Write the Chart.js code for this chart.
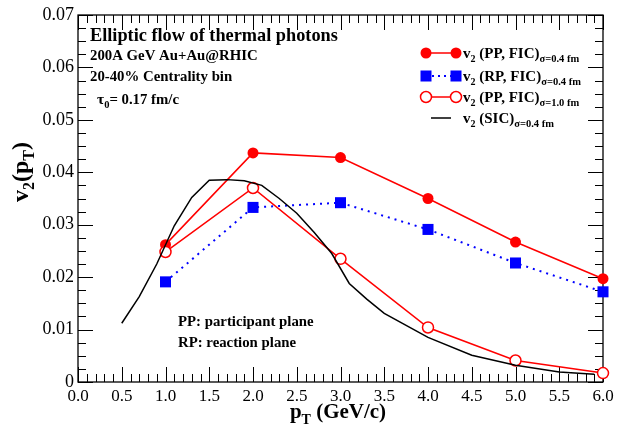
<!DOCTYPE html>
<html>
<head>
<meta charset="utf-8">
<script src="https://cdn.jsdelivr.net/npm/chart.js@4"></script>
<style>
  html, body { margin: 0; padding: 0; background: #fff; }
  #wrap { width: 626px; height: 430px; position: relative; }
</style>
</head>
<body>
<div id="wrap"><canvas id="canvas1"></canvas></div>
<script>
/* v2 of thermal photons vs pT */
const ptBins = [1, 2, 3, 4, 5, 6]
const v2PPnarrow = [0.0262, 0.0437, 0.0428, 0.0350, 0.0267, 0.0197]
const v2RPnarrow = [0.0191, 0.0333, 0.0342, 0.0291, 0.0227, 0.0172]
const v2PPwide = [0.0248, 0.0370, 0.0235, 0.0104, 0.0041, 0.0017]

const sicPt = [0.5, 0.7, 0.9, 1.1, 1.3, 1.5, 1.7, 1.9, 2.1, 2.3, 2.5, 2.7, 2.9, 3.1, 3.3, 3.5, 4.0, 4.5, 5.0, 5.5, 5.9]
const v2SIC = [0.0112, 0.0163, 0.0225, 0.0298, 0.0352, 0.0385, 0.0386, 0.0384, 0.0375, 0.0350, 0.0322, 0.0285, 0.0245, 0.0188, 0.0158, 0.0131, 0.0085, 0.0051, 0.0032, 0.0019, 0.0015]

const xTicks = [0, 0.5, 1, 1.5, 2, 2.5, 3, 3.5, 4, 4.5, 5, 5.5, 6]
const yTicks = [0, 0.01, 0.02, 0.03, 0.04, 0.05, 0.06, 0.07]

const SERIF = '"Liberation Serif", "DejaVu Serif", serif'

function pts(xs, ys) {
    return xs.map((x, i) => ({ x: x, y: ys[i] }))
}

// text with sub/superscript pieces: [text, size, dy]
function richText(ctx, parts, x, y) {
    let cx = x
    parts.forEach(p => {
        ctx.font = 'bold ' + p[1] + 'px ' + SERIF
        ctx.fillText(p[0], cx, y + (p[2] || 0))
        cx += ctx.measureText(p[0]).width
    })
    return cx
}

function richWidth(ctx, parts) {
    let w = 0
    parts.forEach(p => { ctx.font = 'bold ' + p[1] + 'px ' + SERIF; w += ctx.measureText(p[0]).width })
    return w
}

function marker(ctx, style, x, y) {
    ctx.save()
    ctx.lineWidth = 1.5
    if (style === 'filled') {
        ctx.fillStyle = '#ff0000'
        ctx.beginPath(); ctx.arc(x, y, 5.5, 0, Math.PI * 2); ctx.fill()
    } else if (style === 'open') {
        ctx.fillStyle = '#fff'; ctx.strokeStyle = '#ff0000'
        ctx.beginPath(); ctx.arc(x, y, 5.5, 0, Math.PI * 2); ctx.fill(); ctx.stroke()
    } else {
        ctx.fillStyle = '#0000ff'
        ctx.fillRect(x - 5.5, y - 5.5, 11, 11)
    }
    ctx.restore()
}

// frame, inward ticks, axis titles, notes and legend
const decor = {
    id: 'decor',
    beforeDatasetsDraw(chart) {
        const ctx = chart.ctx
        const a = chart.chartArea
        const xs = chart.scales.x, ys = chart.scales.y
        ctx.save()
        ctx.strokeStyle = '#000'
        ctx.lineWidth = 1.3
        ctx.strokeRect(a.left, a.top, a.right - a.left, a.bottom - a.top)
        ctx.lineWidth = 1
        ctx.beginPath()
        for (let i = 0; i <= 60; i++) {
            const v = i / 10
            const px = Math.round(xs.getPixelForValue(v)) + 0.5
            const len = (i % 5 === 0) ? 15 : 8
            ctx.moveTo(px, a.bottom); ctx.lineTo(px, a.bottom - len)
            ctx.moveTo(px, a.top); ctx.lineTo(px, a.top + len)
        }
        for (let i = 0; i <= 28; i++) {
            const v = i * 0.0025
            const py = Math.round(ys.getPixelForValue(v)) + 0.5
            const len = (i % 4 === 0) ? 15 : 8
            ctx.moveTo(a.left, py); ctx.lineTo(a.left + len, py)
            ctx.moveTo(a.right, py); ctx.lineTo(a.right - len, py)
        }
        ctx.stroke()

        ctx.fillStyle = '#000'
        ctx.textBaseline = 'alphabetic'
        ctx.textAlign = 'left'

        // x title
        const xParts = [['p', 21, 0], ['T', 14, 6], [' (GeV/c)', 21, 0]]
        richText(ctx, xParts, 338 - richWidth(ctx, xParts) / 2, 418)

        // y title
        ctx.save()
        ctx.translate(28, 172)
        ctx.rotate(-Math.PI / 2)
        const yParts = [['v', 24, 0], ['2', 16, 6], ['(p', 24, 0], ['T', 16, 6], [')', 24, 0]]
        richText(ctx, yParts, -richWidth(ctx, yParts) / 2, 0)
        ctx.restore()

        // notes
        ctx.font = 'bold 18.3px ' + SERIF
        ctx.fillText('Elliptic flow of thermal photons', 90, 41)
        ctx.font = 'bold 14.8px ' + SERIF
        ctx.fillText('200A GeV Au+Au@RHIC', 90, 60)
        ctx.fillText('20-40% Centrality bin', 90, 81)
        richText(ctx, [['\u03c4', 15.5, 0], ['0', 10.5, 4], ['= 0.17 fm/c', 14.8, 0]], 97, 104)
        ctx.font = 'bold 14.8px ' + SERIF
        ctx.fillText('PP: participant plane', 178, 326)
        ctx.fillText('RP: reaction plane', 178, 347)

        // legend
        const rows = [
            { style: 'filled', color: '#ff0000', dash: [], label: '(PP, FIC)', sub: '\u03c3=0.4 fm' },
            { style: 'square', color: '#0000ff', dash: [2, 4], label: '(RP, FIC)', sub: '\u03c3=0.4 fm' },
            { style: 'open', color: '#ff0000', dash: [], label: '(PP, FIC)', sub: '\u03c3=1.0 fm' },
            { style: null, color: '#000', dash: [], label: '(SIC)', sub: '\u03c3=0.4 fm' }
        ]
        const rowY = [53, 76, 97, 118]
        rows.forEach((r, i) => {
            const y = rowY[i]
            ctx.save()
            ctx.strokeStyle = r.color
            ctx.lineWidth = r.style === 'square' ? 2 : 1.5
            ctx.setLineDash(r.dash)
            ctx.beginPath()
            if (r.style) { ctx.moveTo(426, y); ctx.lineTo(456, y) }
            else { ctx.moveTo(431, y); ctx.lineTo(451, y) }
            ctx.stroke()
            ctx.restore()
            if (r.style) { marker(ctx, r.style, 426, y); marker(ctx, r.style, 456, y) }
            ctx.fillStyle = '#000'
            richText(ctx, [['v', 15, 0], ['2', 10, 4], [' ' + r.label, 15, 0], [r.sub, 10.5, 4]], 463, y + 5)
        })
        ctx.restore()
    }
}

let canvas1 = document.getElementById('canvas1')
let ctx1 = canvas1.getContext('2d')
new Chart(ctx1, {
    type: 'scatter',
    data: {
        datasets: [{
            label: 'v2 (SIC) sigma=0.4 fm',
            data: pts(sicPt, v2SIC),
            showLine: true,
            borderColor: '#000',
            borderWidth: 1.5,
            pointRadius: 0,
            fill: false,
            clip: false
        }, {
            label: 'v2 (PP, FIC) sigma=1.0 fm',
            data: pts(ptBins, v2PPwide),
            showLine: true,
            borderColor: '#ff0000',
            borderWidth: 1.5,
            pointStyle: 'circle',
            pointRadius: 5.5,
            pointBackgroundColor: '#fff',
            pointBorderColor: '#ff0000',
            pointBorderWidth: 1.5,
            clip: false
        }, {
            label: 'v2 (RP, FIC) sigma=0.4 fm',
            data: pts(ptBins, v2RPnarrow),
            showLine: true,
            borderColor: '#0000ff',
            borderWidth: 2,
            borderDash: [2, 5],
            pointStyle: 'rect',
            pointRadius: 7.8,
            pointBackgroundColor: '#0000ff',
            pointBorderColor: '#0000ff',
            pointBorderWidth: 0,
            clip: false
        }, {
            label: 'v2 (PP, FIC) sigma=0.4 fm',
            data: pts(ptBins, v2PPnarrow),
            showLine: true,
            borderColor: '#ff0000',
            borderWidth: 1.5,
            pointStyle: 'circle',
            pointRadius: 5.5,
            pointBackgroundColor: '#ff0000',
            pointBorderColor: '#ff0000',
            pointBorderWidth: 0,
            clip: false
        }]
    },
    options: {
        responsive: true,
        maintainAspectRatio: false,
        animation: false,
        layout: { padding: { top: 15, right: 23, left: 0, bottom: 0 } },
        plugins: {
            legend: { display: false },
            tooltip: { enabled: false }
        },
        scales: {
            x: {
                type: 'linear',
                min: 0,
                max: 6,
                afterBuildTicks: s => { s.ticks = xTicks.map(v => ({ value: v })) },
                afterFit: s => { s.height = 48 },
                grid: { display: false, drawTicks: false },
                border: { display: false },
                ticks: {
                    color: '#000',
                    padding: 4,
                    maxRotation: 0,
                    font: { family: SERIF, size: 17 },
                    callback: v => v.toFixed(1)
                }
            },
            y: {
                type: 'linear',
                min: 0,
                max: 0.07,
                afterBuildTicks: s => { s.ticks = yTicks.map(v => ({ value: v })) },
                afterFit: s => { s.width = 78 },
                grid: { display: false, drawTicks: false },
                border: { display: false },
                ticks: {
                    color: '#000',
                    padding: 4,
                    font: { family: SERIF, size: 18 },
                    callback: v => v === 0 ? '0' : v.toFixed(2)
                }
            }
        }
    },
    plugins: [decor]
})
</script>
</body>
</html>
